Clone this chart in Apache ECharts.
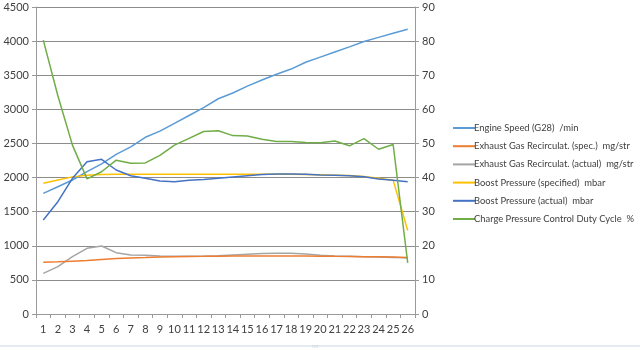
<!DOCTYPE html>
<html><head><meta charset="utf-8">
<script src="https://cdn.jsdelivr.net/npm/echarts@6/dist/echarts.min.js"></script>
<style>html,body{margin:0;padding:0;background:#fff}#c{width:640px;height:350px}</style>
</head><body><div id="c"></div>
<script>
const categories = ['1','2','3','4','5','6','7','8','9','10','11','12','13','14','15','16','17','18','19','20','21','22','23','24','25','26'];
const engineSpeed = [1769,1866,1964,2086,2200,2340,2450,2590,2680,2795,2910,3025,3155,3240,3340,3430,3515,3590,3690,3765,3840,3915,3995,4055,4115,4175];
const egrSpec = [760,765,775,785,800,812,822,828,835,840,843,845,848,850,850,850,850,850,850,848,845,843,840,838,835,830];
const egrActual = [596,694,840,963,997,899,865,860,850,845,845,847,855,865,875,885,890,890,880,860,850,845,840,835,830,820];
const boostSpec = [1916,1965,2010,2035,2045,2048,2048,2048,2048,2048,2048,2048,2048,2048,2048,2048,2048,2048,2045,2040,2035,2030,2015,1990,1962,1225];
const boostActual = [1378,1646,1989,2233,2267,2111,2027,1989,1950,1940,1962,1972,1989,2008,2027,2045,2052,2052,2047,2037,2035,2027,2013,1979,1960,1940];
const dutyCycle = [80.3,64,49.5,39.6,41.7,45.1,44.2,44.3,46.5,49.5,51.5,53.5,53.7,52.3,52.2,51.2,50.6,50.6,50.3,50.2,50.7,49.3,51.4,48.3,49.7,15.0];
const leftTicks = [0,4500,500];
const rightTicks = [0,90,10];

const names = ['Engine Speed (G28)  /min','Exhaust Gas Recirculat. (spec.)  mg/str','Exhaust Gas Recirculat. (actual)  mg/str','Boost Pressure (specified)  mbar','Boost Pressure (actual)  mbar','Charge Pressure Control Duty Cycle  %'];
const colors = ['#5B9BD5','#ED7D31','#A5A5A5','#FFC000','#4472C4','#70AD47'];
const dataSets = [engineSpeed, egrSpec, egrActual, boostSpec, boostActual, dutyCycle];

const font = 'Lato, "Liberation Sans", sans-serif';
const chart = echarts.init(document.getElementById('c'), null, {renderer:'canvas'});
chart.setOption({
  animation:false,
  color: colors,
  grid:{left:36, right:225, top:7, bottom:36, containLabel:false},
  legend:{
    orient:'vertical', left:448, top:117, itemGap:6.2, itemWidth:22, itemHeight:12,
    icon:'path://M0,5 L22,5 L22,7 L0,7 Z',
    textStyle:{fontFamily:font, fontSize:9.4, lineHeight:12, height:12, color:'#404040', padding:[0,0,0,-6]},
    data: names
  },
  xAxis:{
    type:'category', data:categories, boundaryGap:true,
    axisLine:{lineStyle:{color:'#9a9a9a'}},
    axisTick:{show:true, length:4, lineStyle:{color:'#9a9a9a'}},
    axisLabel:{fontFamily:font, fontSize:11, color:'#404040', margin:10, interval:0}
  },
  yAxis:[{
    type:'value', min:leftTicks[0], max:leftTicks[1], interval:leftTicks[2], position:'left',
    axisLine:{show:true, lineStyle:{color:'#9a9a9a'}},
    axisTick:{show:true, length:4, lineStyle:{color:'#9a9a9a'}},
    splitLine:{lineStyle:{color:'#8c8c8c', width:1}},
    axisLabel:{fontFamily:font, fontSize:11, color:'#404040', margin:7, formatter:v=>String(v)}
  },{
    type:'value', min:rightTicks[0], max:rightTicks[1], interval:rightTicks[2], position:'right',
    axisLine:{show:true, lineStyle:{color:'#9a9a9a'}},
    axisTick:{show:true, length:4, lineStyle:{color:'#9a9a9a'}},
    splitLine:{show:false},
    axisLabel:{fontFamily:font, fontSize:11, color:'#404040', margin:7, formatter:v=>String(v)}
  }],
  series: names.map((n,i)=>({
    name:n, type:'line', data:dataSets[i], yAxisIndex: i===5?1:0,
    showSymbol:false, symbol:'none', smooth:false,
    lineStyle:{width:1.5, color:colors[i]}, z: [2,3,2,4,5,6][i]
  })),
  graphic:[
    {type:'line', shape:{x1:0,y1:346,x2:640,y2:346}, style:{stroke:'#c9d6e3', lineWidth:1}},
    {type:'text', left:312, top:343, style:{text:'::::', fill:'#9aa', font:'6px sans-serif'}}
  ]
});
</script></body></html>
